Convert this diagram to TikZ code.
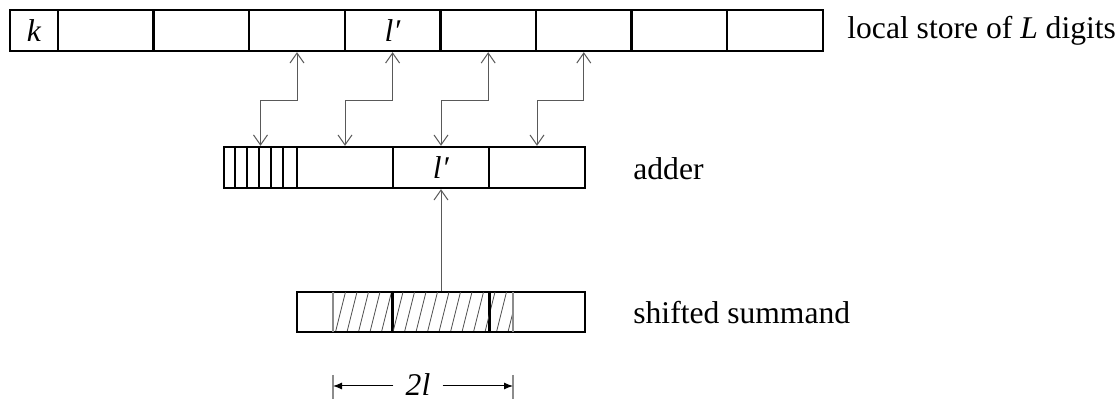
\documentclass[tikz,border=0pt]{standalone}
\usepackage{fontspec}
\setmainfont{Liberation Serif}
\usepackage{tikz}
\usetikzlibrary{arrows.meta}

\tikzset{
	cell/.style={draw, line width=1.2pt, inner sep=0pt, minimum height=20.5pt, font=\fontsize{15.8}{18}\selectfont},
	link/.style={draw=black!65, line width=0.5pt, {Straight Barb[length=5pt,width=7pt]}-{Straight Barb[length=5pt,width=7pt]}},
	feed/.style={draw=black!65, line width=0.5pt, -{Straight Barb[length=5pt,width=7pt]}},
	hatch/.style={draw=black!70, line width=0.4pt},
	tag/.style={anchor=west, inner sep=0pt, font=\fontsize{15.8}{18}\selectfont},
}

\begin{document}
\begin{tikzpicture}[x=0.5pt, y=-0.5pt]
	\useasboundingbox (0,0) rectangle (1120,400);
	
	\node[cell, minimum width=24pt] (t1) at (34,30.5) {\textit{k}};
		\node[cell, minimum width=47.8pt] (t2) at (105.8,30.5) {};
		\node[cell, minimum width=47.8pt] (t3) at (201.4,30.5) {};
		\node[cell, minimum width=47.8pt] (t4) at (297,30.5) {};
		\node[cell, minimum width=47.8pt] (t5) at (392.6,30.5) {\textit{l′}};
		\node[cell, minimum width=47.8pt] (t6) at (488.2,30.5) {};
		\node[cell, minimum width=47.8pt] (t7) at (583.8,30.5) {};
		\node[cell, minimum width=47.8pt] (t8) at (679.4,30.5) {};
		\node[cell, minimum width=47.8pt] (t9) at (775,30.5) {};
		\node[tag] (store) at (847,30.5) {local store of \textit{L} digits};
		
		\node[cell, minimum width=36.5pt] (a0) at (260.5,167.5) {};
		\node[cell, minimum width=48pt] (a1) at (345,167.5) {};
		\node[cell, minimum width=48pt] (a2) at (441,167.5) {\textit{l′}};
		\node[cell, minimum width=48pt] (a3) at (537,167.5) {};
		\node[tag] (adder) at (633,169) {adder};
		
		\foreach \k in {1,...,5}
			\draw[line width=1.2pt] ([xshift=\k*6pt]a0.north west) -- ([xshift=\k*6pt]a0.south west);
		
		\draw[link] (t4.south) -- ++(0,48) -| (a0.north);
		\draw[link] (t5.south) -- ++(0,48) -| (a1.north);
		\draw[link] (t6.south) -- ++(0,48) -| (a2.north);
		\draw[link] (t7.south) -- ++(0,48) -| (a3.north);
		
		\node[cell, minimum width=48pt, minimum height=20pt] (s1) at (345,312) {};
		\node[cell, minimum width=48pt, minimum height=20pt] (s2) at (441,312) {};
		\node[cell, minimum width=48pt, minimum height=20pt] (s3) at (537,312) {};
		\node[tag] (summand) at (633,313) {shifted summand};
		
		\begin{scope}
			\clip (333,293) rectangle (513,331);
			\foreach \x in {324,335.5,...,525}
				\draw[hatch] (\x,332) -- (\x+10,292);
		\end{scope}
		\draw[black!45, line width=0.6pt] (333,292) -- (333,332);
		\draw[black!45, line width=0.6pt] (513,292) -- (513,332);
		\draw[line width=1.2pt] (s2.north west) -- (s2.south west);
		\draw[line width=1.2pt] (s2.north east) -- (s2.south east);
		
		\draw[feed] (s2.north) -- (a2.south);
		
		\coordinate (dl) at (333,386);
		\coordinate (dr) at (513,386);
		\node[inner xsep=6pt, inner ysep=1pt, font=\fontsize{15.8}{18}\selectfont] (twol) at (418,385) {\textit{2l}};
		\draw[black!45, line width=0.6pt] (333,375) -- (333,399);
		\draw[black!45, line width=0.6pt] (513,375) -- (513,399);
		\draw[-{Latex[length=4.5pt,width=3.5pt]}, line width=0.5pt] (twol.west |- dl) -- (dl);
		\draw[-{Latex[length=4.5pt,width=3.5pt]}, line width=0.5pt] (twol.east |- dr) -- (dr);
		
	\end{tikzpicture}
\end{document}
